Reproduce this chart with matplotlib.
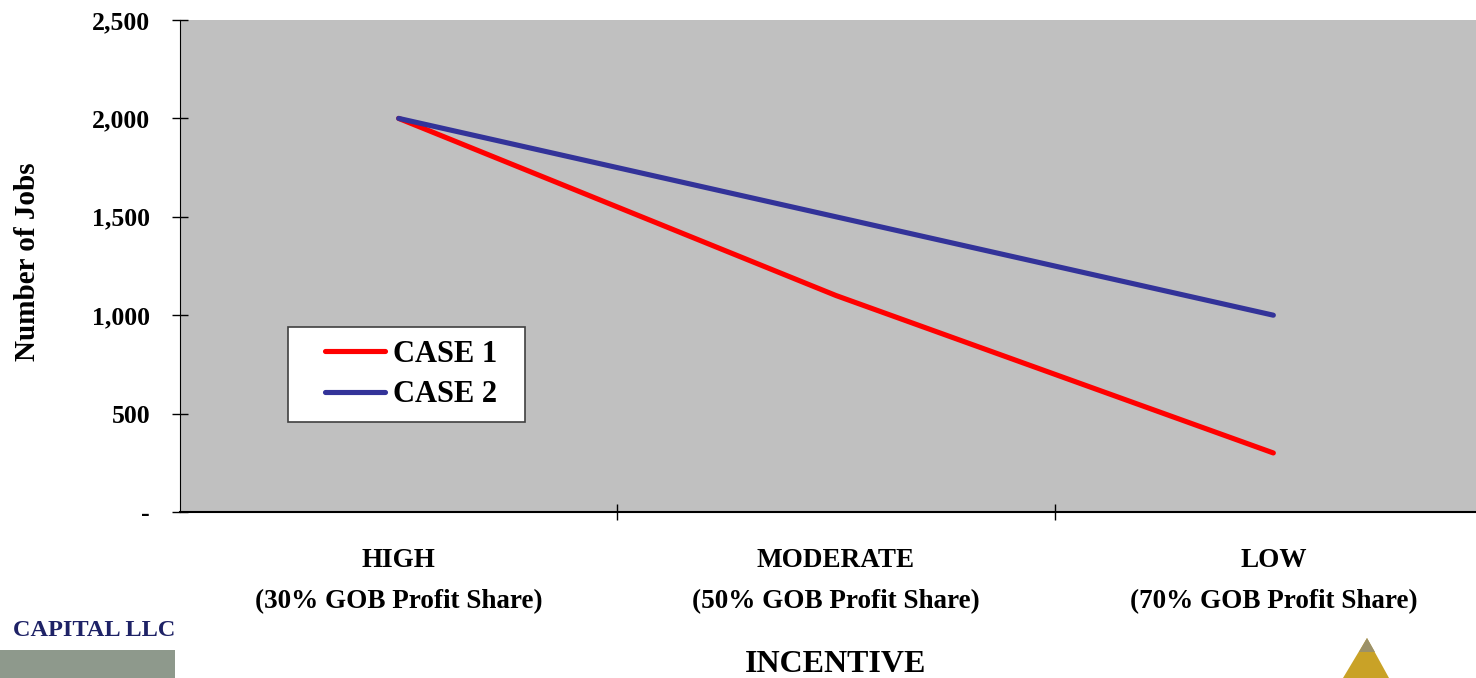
import matplotlib
matplotlib.use("Agg")
import matplotlib.pyplot as plt
from matplotlib.ticker import FuncFormatter
from matplotlib.patches import Rectangle, Polygon

categories = ["HIGH\n(30% GOB Profit Share)",
              "MODERATE\n(50% GOB Profit Share)",
              "LOW\n(70% GOB Profit Share)"]
case1 = [2000, 1100, 300]
case2 = [2000, 1500, 1000]
series_names = ["CASE 1", "CASE 2"]
y_ticks = [0, 500, 1000, 1500, 2000, 2500]

plt.rcParams['font.family'] = ['Liberation Serif', 'DejaVu Serif']
plt.rcParams['font.weight'] = 'bold'

W, H = 1476, 678
fig = plt.figure(figsize=(W / 100, H / 100), dpi=100)
ax = fig.add_axes([180 / W, 1 - 512 / H, 1312 / W, 492 / H])
ax.set_facecolor('#C0C0C0')

x = list(range(len(categories)))
ax.plot(x, case1, color='#FF0000', lw=3.7, solid_capstyle='round', label=series_names[0] + "  ", zorder=3)
ax.plot(x, case2, color='#333399', lw=3.7, solid_capstyle='round', label=series_names[1] + "  ", zorder=3)

ax.set_xlim(-0.5, 2.5)
ax.set_ylim(0, 2500)
ax.set_yticks(y_ticks)
ax.yaxis.set_major_formatter(FuncFormatter(lambda v, p: '-' if v == 0 else f"{int(v):,}"))
ax.set_xticks([0.5, 1.5, 2.5])
ax.set_xticks(x, minor=True)
ax.set_xticklabels([], minor=False)
ax.set_xticklabels(categories, minor=True, fontsize=19.5, fontweight='bold', linespacing=1.85)
ax.tick_params(axis='x', which='minor', length=0, pad=26)
ax.tick_params(axis='x', which='major', direction='inout', length=12, width=1, color='black')
ax.tick_params(axis='y', direction='inout', length=11, width=1, pad=16, labelsize=18.5)
for lbl in ax.get_yticklabels():
    lbl.set_fontweight('bold')

for s in ['top', 'right']:
    ax.spines[s].set_visible(False)
ax.spines['left'].set_color('black')
ax.spines['bottom'].set_color('black')
ax.spines['bottom'].set_linewidth(1.5)

ax.set_ylabel("Number of Jobs", fontsize=21, fontweight='bold')
ax.yaxis.set_label_coords(-(180 - 41) / 1312, (512 - 262) / 492)

leg = ax.legend(loc='upper left', bbox_to_anchor=(108 / 1312, (512 - 327) / 492),
                frameon=True, fancybox=False, edgecolor='#404040', facecolor='white',
                framealpha=1, prop={'family': ['Liberation Serif'], 'weight': 'bold', 'size': 22},
                handlelength=2.75, handletextpad=0.27, borderpad=0.42, labelspacing=0.38,
                borderaxespad=0)
leg.get_frame().set_linewidth(1.2)
for ln in leg.get_lines():
    xd = list(ln.get_xdata())
    x0, x1 = xd[0], xd[-1]
    ln.set_xdata([x0 + 0.29 * (x1 - x0), x1])
    ln.set_ydata([ln.get_ydata()[0]] * 2)
    ln.set_linewidth(3.7)

fig.text(836 / W, 1 - 664 / H, "INCENTIVE", ha='center', va='center',
         fontsize=23, fontweight='bold')

# logo fragments at the bottom
fig.text(13 / W, 1 - 630 / H, "CAPITAL LLC", ha='left', va='center',
         fontsize=17.5, fontweight='bold', color='#1E2266')
fig.add_artist(Rectangle((0, 0), 175 / W, 28 / H, transform=fig.transFigure,
                         facecolor='#8E998C', edgecolor='none'))
fig.add_artist(Polygon([(1367 / W, 1 - 638 / H), (1343 / W, 0), (1389 / W, 0)],
                       closed=True, transform=fig.transFigure,
                       facecolor='#C9A227', edgecolor='none'))
fig.add_artist(Polygon([(1367 / W, 1 - 638 / H), (1359 / W, 1 - 652 / H), (1375 / W, 1 - 652 / H)],
                       closed=True, transform=fig.transFigure,
                       facecolor='#9C9168', edgecolor='none'))

fig.savefig("out.png", dpi=100)
